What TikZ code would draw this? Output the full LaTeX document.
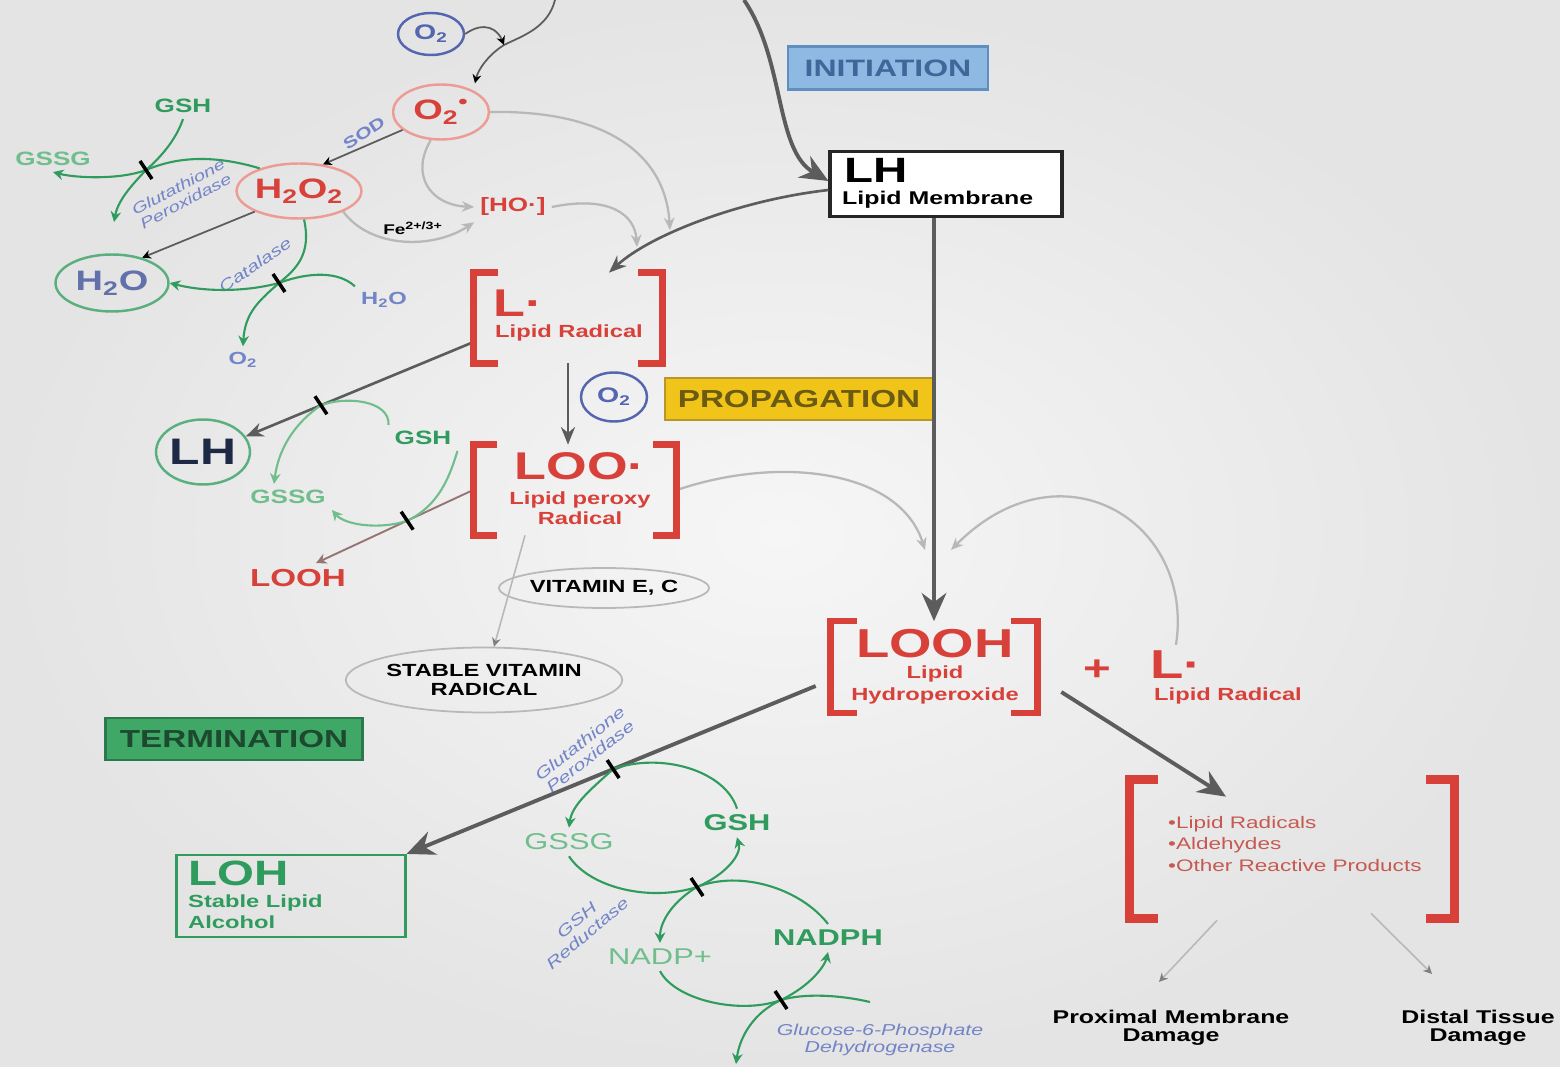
\documentclass[tikz,border=0pt]{standalone}
\usepackage{fontspec}
\setmainfont[FakeStretch=1.35]{Liberation Sans}
\usetikzlibrary{arrows.meta, calc, positioning, shapes.geometric}
\definecolor{rlip}{HTML}{D8413A}
\definecolor{rpale}{HTML}{EC9C94}
\definecolor{rlist}{HTML}{C65A52}
\definecolor{glip}{HTML}{2F9C5E}
\definecolor{gpale}{HTML}{6FBE8C}
\definecolor{blip}{HTML}{7385C8}
\definecolor{oblu}{HTML}{5565B0}
\definecolor{navy}{HTML}{1E2946}
\definecolor{dgry}{HTML}{5C5C5C}
\definecolor{lgry}{HTML}{B8B8B8}
\definecolor{ifill}{HTML}{8EB9E2}
\definecolor{idraw}{HTML}{5F8FC2}
\definecolor{itext}{HTML}{40679A}
\definecolor{pfill}{HTML}{F0C419}
\definecolor{pdraw}{HTML}{B9962A}
\definecolor{ptext}{HTML}{6A5A12}
\definecolor{tfill}{HTML}{3FA867}
\definecolor{tdraw}{HTML}{2B7A4B}
\definecolor{ttext}{HTML}{1D4A2F}
\definecolor{bgin}{HTML}{F6F6F6}
\definecolor{bgout}{HTML}{E4E4E4}

\newcommand{\redbrackets}[3]{%
  \draw[#3] ($(#1.north west)+(#2,0)$) -- (#1.north west) -- (#1.south west) -- ($(#1.south west)+(#2,0)$);
  \draw[#3] ($(#1.north east)+(-#2,0)$) -- (#1.north east) -- (#1.south east) -- ($(#1.south east)+(-#2,0)$);}
\newcommand{\blocktick}[1]{\draw[tickbar] (#1) +(-6,-9) -- +(6,9);}

\begin{document}
\begin{tikzpicture}[x=0.02cm, y=-0.02cm,
        fb/.style={font=\fontsize{#1}{#1}\selectfont\bfseries},
        fr/.style={font=\fontsize{#1}{#1}\selectfont},
        ell/.style={ellipse, line width=1.4pt, inner sep=0pt},
        stage/.style={rectangle, line width=1.6pt, inner sep=0pt},
        grp/.style={rectangle, inner sep=0pt},
        enz/.style={text=blip, font=\fontsize{9}{9.5}\selectfont\itshape, align=center},
        brk/.style={draw=rlip, line width=3.8pt},
        bigbrk/.style={draw=rlip, line width=5pt},
        tickbar/.style={draw=black, line width=2pt},
        blk/.style={draw=dgry, line width=1pt, -{Stealth[length=5pt,width=5pt,color=black]}},
        bigarr/.style={draw=dgry, line width=2.2pt, -{Stealth[length=16pt,width=14pt]}},
        midarr/.style={draw=dgry, line width=1.5pt, -{Stealth[length=10pt,width=8pt]}},
        lgt/.style={draw=lgry, line width=1.3pt, -{Stealth[length=7pt,width=6pt]}},
        faint/.style={draw=lgry, line width=0.9pt, -{Stealth[length=5pt,width=5pt,color=gray]}},
        grn/.style={draw=glip, line width=1.2pt, -{Stealth[length=6pt,width=6pt]}}]
    \shade[inner color=bgin, outer color=bgout] (0,0) rectangle (1560,1067);
    \useasboundingbox (0,0) rectangle (1560,1067);

    % initiation
    \node[ell, draw=oblu, text=oblu, fb=12, minimum width=1.32cm, minimum height=0.84cm] (o2a) at (431,34) {O\textsubscript{2}};
    \node[ell, draw=rpale, text=rlip, fb=16, minimum width=1.92cm, minimum height=1.1cm] (sup) at (441,112) {O\textsubscript{2}\textsuperscript{\textbullet}};
    \node[ell, draw=rpale, text=rlip, fb=16, minimum width=2.32cm, minimum height=1.1cm] (hoo) at (299,191) {H\textsubscript{2}O\textsubscript{2}};
    \node[ell, draw=glip!80, text=blip!85!black, fb=16, minimum width=2.26cm, minimum height=1.14cm] (wat) at (112,283) {H\textsubscript{2}O};
    \node[text=glip, fb=11] (gsha) at (183,106) {GSH};
    \node[text=gpale, fb=11] (gssga) at (53,159) {GSSG};
    \node[enz, rotate=28, font=\fontsize{8.5}{9}\selectfont\itshape] (gpxa) at (182,194) {Glutathione\\Peroxidase};
    \node[text=blip, fb=9, rotate=33] (sod) at (364,133) {SOD};
    \node[text=rlip, fb=11] (ho) at (513,207) {[HO·]};
    \node[fb=8] (fe) at (413,228) {Fe\textsuperscript{2+/3+}};
    \node[enz, rotate=35] (cata) at (255,265) {Catalase};
    \node[text=blip, fb=10] (h2os) at (384,300) {H\textsubscript{2}O};
    \node[text=blip, fb=10] (o2s) at (243,360) {O\textsubscript{2}};
    \node[stage, fill=ifill, draw=idraw, text=itext, fb=13.5, minimum width=4cm, minimum height=0.86cm] (init) at (888,68) {INITIATION};
    \node[stage, fill=white, draw=black!85, line width=1.8pt, minimum width=4.64cm, minimum height=1.3cm] (lhbox) at (946,184) {};
    \node[anchor=west, fb=20] (lhtxt) at (838,170) {LH};
    \node[anchor=west, fb=10.5] (lhlab) at (836,200) {Lipid Membrane};
    \coordinate (topa) at (555,0);
    \coordinate (topb) at (744,0);
    \coordinate (j1) at (504,45);
    \coordinate (tipc) at (670,230);
    \coordinate (tipd) at (637,247);
    \coordinate (gpxout) at (114,222);

    % propagation
    \node[grp, minimum width=3.76cm, minimum height=1.8cm] (lrad) at (568,318) {};
    \node[text=rlip, fb=22] (lradtxt) at (518,303) {L·};
    \node[text=rlip, fb=10] (lradlab) at (569,333) {Lipid Radical};
    \node[ell, draw=oblu, text=oblu, fb=12, minimum width=1.32cm, minimum height=0.98cm] (o2b) at (614,397) {O\textsubscript{2}};
    \node[stage, fill=pfill, draw=pdraw, text=ptext, fb=14, minimum width=5.36cm, minimum height=0.84cm] (prop) at (799,399) {PROPAGATION};
    \node[ell, draw=glip!80, text=navy, fb=21, minimum width=1.84cm, minimum height=1.3cm] (lhc) at (203,452) {LH};
    \node[text=glip, fb=11] (gshb) at (423,438) {GSH};
    \node[text=gpale, fb=11] (gssgb) at (288,497) {GSSG};
    \node[text=rlip, fb=14] (loohb) at (298,578) {LOOH};
    \node[grp, minimum width=4.06cm, minimum height=1.8cm] (loo) at (575,490) {};
    \node[text=rlip, fb=22] (lootxt) at (580,466) {LOO·};
    \node[text=rlip, font=\fontsize{10}{11.5}\selectfont\bfseries, align=center] (loolab) at (580,508) {Lipid peroxy\\Radical};
    \node[ell, draw=lgry, line width=1pt, fb=10, minimum width=3.7cm, minimum height=0.8cm] (vit) at (604,588) {VITAMIN E, C};
    \node[ell, draw=lgry, line width=1pt, font=\fontsize{10}{11}\selectfont\bfseries, align=center, minimum width=5.36cm, minimum height=1.3cm] (stab) at (484,680) {STABLE VITAMIN\\RADICAL};
    \node[grp, minimum width=4.12cm, minimum height=1.82cm] (looh) at (934,667) {};
    \node[text=rlip, fb=23] (loohtxt) at (935,644) {LOOH};
    \node[text=rlip, font=\fontsize{10}{12.5}\selectfont\bfseries, align=center] (loohlab) at (935,685) {Lipid\\Hydroperoxide};
    \node[text=rlip, fb=20] (plus) at (1097,670) {+};
    \node[text=rlip, fb=23] (lradb) at (1176,665) {L·};
    \node[text=rlip, fb=10] (lradblab) at (1228,696) {Lipid Radical};
    \node[grp, minimum width=6.48cm, minimum height=2.76cm] (prod) at (1292,849) {};
    \node[anchor=west, text=rlist, font=\fontsize{9.5}{12.2}\selectfont, align=left] (prodlist) at (1162,844) {•Lipid Radicals\\•Aldehydes\\•Other Reactive Products};
    \node[font=\fontsize{10.5}{10.5}\selectfont\bfseries, align=center] (prox) at (1171,1028) {Proximal Membrane\\Damage};
    \node[font=\fontsize{10.5}{10.5}\selectfont\bfseries, align=center] (dist) at (1478,1028) {Distal Tissue\\Damage};
    \coordinate (tipa) at (925,550);
    \coordinate (tipb) at (951,550);

    % termination
    \node[stage, fill=tfill, draw=tdraw, text=ttext, fb=14, minimum width=5.14cm, minimum height=0.84cm] (term) at (234,739) {TERMINATION};
    \node[stage, draw=glip, line width=1.2pt, minimum width=4.58cm, minimum height=1.64cm] (lohbox) at (291,896) {};
    \node[anchor=west, text=glip, fb=20] (lohtxt) at (182,873) {LOH};
    \node[anchor=west, text=glip, font=\fontsize{10}{12}\selectfont\bfseries, align=left] (lohlab) at (182,912) {Stable Lipid\\Alcohol};
    \node[enz, rotate=38] (gpxb) at (585,750) {Glutathione\\Peroxidase};
    \node[text=gpale, fr=13] (gssgc) at (569,842) {GSSG};
    \node[text=glip, fb=13] (gshc) at (737,823) {GSH};
    \node[enz, rotate=40] (gred) at (582,927) {GSH\\Reductase};
    \node[text=gpale, fr=13] (nadp) at (660,957) {NADP+};
    \node[text=glip, fb=13] (nadph) at (828,938) {NADPH};
    \node[enz] (g6pd) at (880,1040) {Glucose-6-Phosphate\\Dehydrogenase};
    \coordinate (k4) at (697,887);
    \coordinate (k5) at (781,1000);
    \coordinate (g6in) at (870,1002);
    \coordinate (g6out) at (736,1064);

    % connectors, top
    \draw[blk] (topa) .. controls (548,28) and (522,36) .. (j1) .. controls (488,55) and (478,70) .. ([xshift=0.68cm]sup.north);
    \draw[blk] (o2a.east) .. controls (485,20) and (498,30) .. (j1);
    \draw[bigarr] (topb) .. controls (785,60) and (775,150) .. ([yshift=0.06cm]lhbox.west);
    \draw[blk] (sup.205) -- (hoo.48);
    \draw[blk] (hoo.205) -- (wat.40);
    \draw[lgt] (sup.east) .. controls (600,110) and (665,150) .. (tipc);
    \draw[lgt] (sup.250) .. controls (410,175) and (430,205) .. (ho.west);
    \draw[lgt] (hoo.-25) .. controls (370,248) and (432,250) .. (ho.south west);
    \draw[lgt] (ho.east) .. controls (610,195) and (635,215) .. (tipd);
    \draw[midarr] ([yshift=-0.12cm]lhbox.west) .. controls (740,200) and (650,235) .. ([xshift=0.82cm]lrad.north);
    \coordinate (gp1) at (146,170);
    \coordinate (kc) at (279,283);
    \draw[grn] (gsha.south) .. controls (176,140) and (160,158) .. (gp1) .. controls (132,185) and (118,200) .. (gpxout);
    \draw[grn] (hoo.150) .. controls (205,152) and (170,160) .. (gp1) .. controls (120,180) and (75,178) .. (gssga.south);
    \draw[grn] (hoo.-80) .. controls (312,255) and (295,270) .. (kc) .. controls (260,300) and (245,312) .. (o2s.north);
    \draw[grn] (h2os.north west) .. controls (335,268) and (300,275) .. (kc) .. controls (245,292) and (205,292) .. (wat.east);

    % connectors, middle
    \draw[midarr] ([yshift=-0.48cm]lrad.west) -- coordinate[pos=0.67] (k1) (lhc.20);
    \draw[draw=dgry!60!rpale, line width=1.1pt, -{Stealth[length=6pt,width=6pt]}] (loo.west) -- coordinate[pos=0.42] (k2) ([xshift=0.36cm]loohb.north);
    \draw[grn, draw=gpale, -{Stealth[length=6pt,width=6pt,color=gpale]}] (gshb.north west) .. controls (390,400) and (345,396) .. (k1) .. controls (292,425) and (278,452) .. ([xshift=-0.28cm]gssgb.north);
    \draw[grn, draw=gpale, -{Stealth[length=6pt,width=6pt,color=gpale]}] (gshb.south east) .. controls (450,475) and (440,505) .. (k2) .. controls (380,530) and (345,525) .. (gssgb.south east);
    \draw[midarr] (lrad.south) -- (lrad.south |- loo.north);
    \draw[bigarr] (lhbox.south -| looh.north) -- (looh.north);
    \draw[lgt] (loo.east) .. controls (780,455) and (900,470) .. (tipa);
    \draw[lgt] (lradb.north) .. controls (1195,520) and (1060,440) .. (tipb);
    \draw[faint] ([xshift=-1cm]loo.south) -- ([xshift=0.2cm]stab.north);

    % connectors, bottom
    \draw[bigarr] ([xshift=-0.3cm,yshift=-0.38cm]looh.west) -- coordinate[pos=0.495] (k3) (lohbox.north east);
    \draw[bigarr] ([xshift=0.48cm,yshift=-0.5cm]looh.east) -- ([xshift=-1.32cm,yshift=-0.34cm]prod.north);
    \draw[faint] ([xshift=-1.5cm,yshift=-0.04cm]prod.south) -- ([shift={(-0.24cm,0.44cm)}]prox.north);
    \draw[faint] ([xshift=1.58cm,yshift=0.1cm]prod.south) -- ([shift={(-0.92cm,0.6cm)}]dist.north);
    \draw[grn] (gshc.north) .. controls (725,770) and (660,752) .. (k3) .. controls (590,790) and (572,805) .. (gssgc.north);
    \draw[grn] (gssgc.south) .. controls (590,888) and (650,902) .. (k4) .. controls (725,875) and (742,855) .. (gshc.south);
    \draw[grn] (nadph.north) .. controls (800,888) and (740,870) .. (k4) .. controls (675,900) and (660,920) .. (nadp.north);
    \draw[grn] (nadp.south) .. controls (675,1000) and (740,1015) .. (k5) .. controls (812,985) and (825,965) .. (nadph.south);
    \draw[grn] (g6in) .. controls (840,995) and (805,993) .. (k5) .. controls (755,1012) and (740,1035) .. (g6out);

    \blocktick{gp1}
    \blocktick{kc}
    \blocktick{k1}
    \blocktick{k2}
    \blocktick{k3}
    \blocktick{k4}
    \blocktick{k5}

    \redbrackets{lrad}{24}{brk}
    \redbrackets{loo}{24}{brk}
    \redbrackets{looh}{26}{brk}
    \redbrackets{prod}{28}{bigbrk}
\end{tikzpicture}
\end{document}
